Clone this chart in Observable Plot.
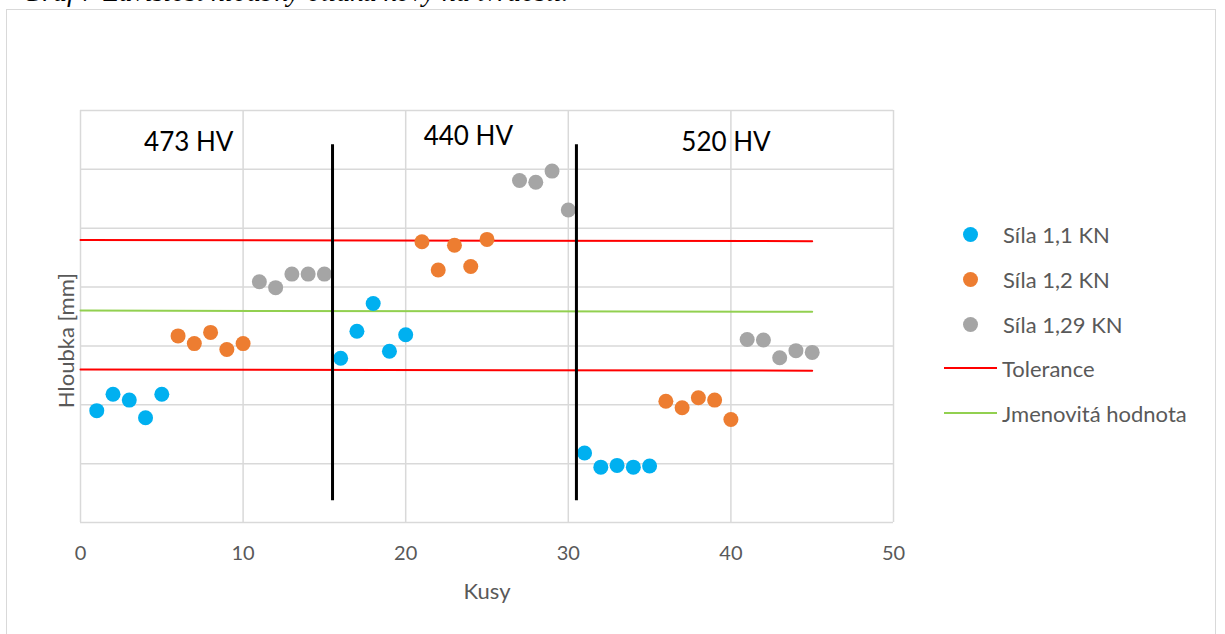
<!DOCTYPE html>
<html>
<head>
<meta charset="utf-8">
<script src="https://cdn.jsdelivr.net/npm/d3@7"></script>
<script src="https://cdn.jsdelivr.net/npm/@observablehq/plot@0.6"></script>
<style>
  html, body { margin: 0; padding: 0; background: #fff; overflow: hidden; }
  #wrap { position: relative; width: 1225px; height: 634px; overflow: hidden; }
  #caption { position: absolute; left: 22px; top: -22px; font-family: "Liberation Serif", serif; font-style: italic; font-size: 28px; line-height: 28px; color: #000; white-space: nowrap; }
  #box { position: absolute; left: 6px; top: 9px; width: 1210px; height: 650px; border: 1.5px solid #d9d9d9; box-sizing: border-box; }
  #chart { position: absolute; left: 0; top: 0; }
  #legend { position: absolute; left: 0; top: 0; font-family: Lato, sans-serif; font-size: 22px; color: #595959; }
  .item { position: absolute; left: 944px; height: 30px; display: flex; align-items: center; white-space: nowrap; }
  .sw { width: 53px; display: flex; justify-content: center; align-items: center; margin-right: 6px; }
  .dot { width: 15px; height: 15px; border-radius: 50%; }
  .ln { width: 53px; height: 2px; }
</style>
</head>
<body>
<div id="wrap">
  <div id="caption">Graf 7 Závislost hloubky otlaku kovy na tvrdosti.</div>
  <div id="box"></div>
  <div id="chart"></div>
  <div id="legend"></div>
</div>
<script>
// ---- data (y in gridline units of Hloubka) ----
const blueX   = [1,2,3,4,5,16,17,18,19,20,31,32,33,34,35];
const blueY   = [1.90,2.18,2.08,1.78,2.18,2.79,3.25,3.72,2.91,3.19,1.18,0.94,0.97,0.94,0.96];
const orangeX = [6,7,8,9,10,21,22,23,24,25,36,37,38,39,40];
const orangeY = [3.17,3.04,3.23,2.94,3.04,4.77,4.29,4.71,4.35,4.81,2.06,1.95,2.12,2.08,1.75];
const grayX   = [11,12,13,14,15,27,28,29,30,41,42,43,44,45];
const grayY   = [4.09,3.99,4.22,4.22,4.22,5.81,5.78,5.97,5.31,3.11,3.10,2.80,2.92,2.89];
const lineX        = [0,45];
const toleranceHi  = [4.80,4.78];
const toleranceLo  = [2.60,2.58];
const nominal      = [3.60,3.58];
const dividerX  = [15.5,30.5];
const dividerY1 = [0.37,0.37];
const dividerY2 = [6.42,6.42];
const hvLabels = ["473 HV","440 HV","520 HV"];
const hvX = [6.66,23.85,39.70];
const hvY = [6.46,6.56,6.45];
const xTicks = [0,10,20,30,40,50];
const yGrid = [0,1,2,3,4,5,6,7];
const seriesNames = ["Síla 1,1 KN","Síla 1,2 KN","Síla 1,29 KN","Tolerance","Jmenovitá hodnota"];
const seriesColors = ["#00B0F0","#ED7D31","#A5A5A5","#FF0000","#92D050"];

const pts = (xs, ys) => xs.map((x,i) => ({x, y: ys[i]}));
const blue = pts(blueX, blueY), orange = pts(orangeX, orangeY), gray = pts(grayX, grayY);
const lines = [
  ...pts(lineX, toleranceHi).map(d => ({...d, k: "hi", c: seriesColors[3]})),
  ...pts(lineX, toleranceLo).map(d => ({...d, k: "lo", c: seriesColors[3]})),
  ...pts(lineX, nominal).map(d => ({...d, k: "nom", c: seriesColors[4]}))
];
const dividers = dividerX.map((x,i) => ({x, y1: dividerY1[i], y2: dividerY2[i]}));
const hv = hvLabels.map((t,i) => ({t, x: hvX[i], y: hvY[i]}));

const chart = Plot.plot({
  width: 1225, height: 634,
  marginLeft: 80, marginRight: 332, marginTop: 110, marginBottom: 112,
  style: { fontFamily: "Lato, sans-serif", background: "transparent" },
  x: { domain: [0, 50] },
  y: { domain: [0, 7], axis: null },
  marks: [
    Plot.gridX(xTicks, { stroke: "#d9d9d9", strokeOpacity: 1, strokeWidth: 1.5 }),
    Plot.gridY(yGrid, { stroke: "#d9d9d9", strokeOpacity: 1, strokeWidth: 1.5 }),
    Plot.axisX({ ticks: xTicks, tickSize: 0, tickPadding: 23, fontSize: 20, fill: "#595959", label: null }),
    Plot.text(["Kusy"], { x: () => 25, frameAnchor: "bottom", dy: 76, fontSize: 22, fill: "#595959" }),
    Plot.text(["Hloubka [mm]"], { y: () => 3.09, frameAnchor: "left", textAnchor: "middle", dx: -14, rotate: -90, fontSize: 22, fill: "#595959" }),
    Plot.line(lines, { x: "x", y: "y", z: "k", stroke: "c", strokeWidth: 2 }),
    Plot.dot(blue,   { x: "x", y: "y", r: 7.5, fill: seriesColors[0] }),
    Plot.dot(orange, { x: "x", y: "y", r: 7.5, fill: seriesColors[1] }),
    Plot.dot(gray,   { x: "x", y: "y", r: 7.5, fill: seriesColors[2] }),
    Plot.ruleX(dividers, { x: "x", y1: "y1", y2: "y2", stroke: "#000", strokeWidth: 3 }),
    Plot.text(hv, { x: "x", y: "y", text: "t", fontSize: 26, fill: "#000" })
  ]
});
document.getElementById("chart").appendChild(chart);

// legend
const legendTops = [234, 279, 324, 368, 413];
const legend = document.getElementById("legend");
seriesNames.forEach((name, i) => {
  const item = document.createElement("div");
  item.className = "item";
  item.style.top = (legendTops[i] - 15) + "px";
  const sw = document.createElement("div");
  sw.className = "sw";
  const mark = document.createElement("div");
  mark.className = i < 3 ? "dot" : "ln";
  mark.style.background = seriesColors[i];
  sw.appendChild(mark);
  if (i >= 3) sw.style.marginRight = "5px";
  const label = document.createElement("span");
  label.textContent = name;
  item.appendChild(sw);
  item.appendChild(label);
  legend.appendChild(item);
});
</script>
</body>
</html>
